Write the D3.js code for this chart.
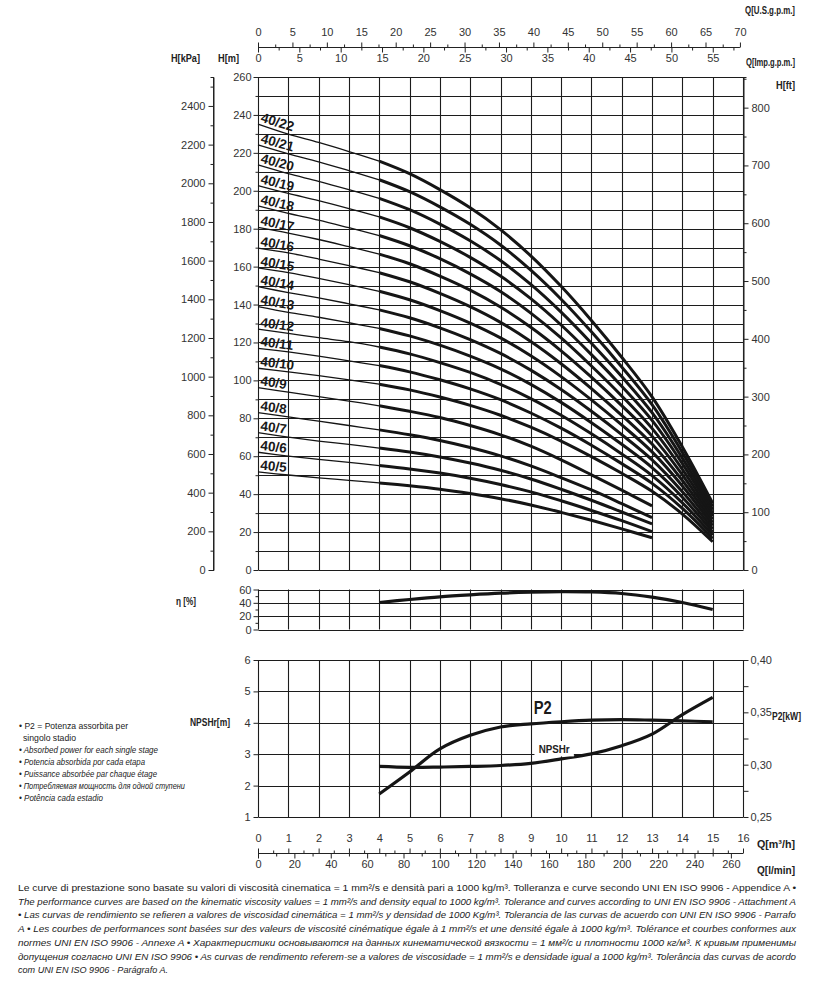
<!DOCTYPE html>
<html><head><meta charset="utf-8">
<script src="https://cdn.jsdelivr.net/npm/d3@7"></script>
<style>
body{margin:0;background:#fff}
svg{display:block}
.tk text{font-family:"Liberation Sans",Arial,sans-serif;font-size:11px;fill:#333}
.tk path,.tk line{stroke:#222;stroke-width:1}
.ttl{font-family:"Liberation Sans",Arial,sans-serif;font-weight:bold;font-size:11.5px;fill:#222}
.nt{font-family:"Liberation Sans",Arial,sans-serif;fill:#222}
</style></head>
<body><svg id="c" width="821" height="983"></svg>
<script>
// ---------------- data ----------------
const flowPoints = [0,1,2,3,4,5,6,7,8,9,10,11,12,13,14,15]; // Q [m3/h]
const stageLabels = ["40/5","40/6","40/7","40/8","40/9","40/10","40/11","40/12","40/13","40/14","40/15","40/16","40/17","40/18","40/19","40/20","40/21","40/22"];
const h40_5  = [51.7,50.1,48.6,47.3,45.9,44.4,42.6,40.3,37.6,34.3,30.4,26.2,21.7,17.0];
const h40_6  = [62.1,60.1,58.3,56.8,55.1,53.3,51.1,48.4,45.1,41.2,36.5,31.4,26.0,20.2];
const h40_7  = [72.4,70.1,68.0,66.2,64.3,62.2,59.6,56.4,52.6,48.0,42.6,36.8,30.6,24.3];
const h40_8  = [83.0,80.7,78.5,76.2,73.9,71.3,68.3,64.6,60.2,54.9,48.7,42.2,35.0,27.6];
const h40_9  = [96.2,93.8,91.4,89.1,86.6,83.7,80.4,76.2,71.3,65.3,58.1,50.2,42.1,33.8];
const h40_10 = [106.4,104.5,102.5,100.3,98.0,95.0,91.2,86.8,81.6,75.3,68.0,59.8,51.0,41.5,29.5,14.9];
const h40_11 = [116.9,115.0,112.8,110.3,107.8,104.5,100.3,95.5,89.8,82.8,74.8,65.8,56.1,45.7,32.5,16.6];
const h40_12 = [127.0,124.8,122.5,120.4,117.6,114.0,109.4,104.2,97.9,90.4,81.6,71.8,61.2,49.8,35.4,18.3];
const h40_13 = [138.9,135.9,133.3,130.4,127.4,123.5,118.6,112.8,106.1,97.9,88.4,77.7,66.3,54.0,38.4,20.0];
const h40_14 = [149.4,146.3,143.5,140.4,137.2,133.0,127.7,121.5,114.2,105.4,95.2,83.7,71.4,58.1,41.3,21.7];
const h40_15 = [159.3,156.8,153.8,150.5,147.0,142.5,136.8,130.2,122.4,113.0,102.0,89.7,76.5,62.3,44.3,23.4];
const h40_16 = [169.7,167.2,164.0,160.5,156.8,152.0,145.9,138.9,130.6,120.5,108.8,95.7,81.6,66.4,47.2,25.0];
const h40_17 = [180.7,177.7,174.3,170.5,166.6,161.5,155.0,147.6,138.7,128.0,115.6,101.7,86.7,70.6,50.2,26.7];
const h40_18 = [192.0,188.1,184.5,180.5,176.4,171.0,164.2,156.2,146.9,135.5,122.4,107.6,91.8,74.7,53.1,28.4];
const h40_19 = [202.7,198.6,194.8,190.6,186.2,180.5,173.3,164.9,155.0,143.1,129.2,113.6,96.9,78.9,56.1,30.1];
const h40_20 = [213.6,209.0,205.0,200.6,196.0,190.0,182.4,173.6,163.2,150.6,136.0,119.6,102.0,83.0,59.0,31.8];
const h40_21 = [224.2,219.5,215.3,210.6,205.8,199.5,191.5,182.3,171.4,158.1,142.8,125.6,107.1,87.2,62.0,33.5];
const h40_22 = [235.2,229.9,225.5,220.7,215.6,209.0,200.6,191.0,179.5,165.7,149.6,131.6,112.2,91.3,64.9,35.2];

const pumpQ      = [4,5,6,7,8,9,10,11,12,13,14,15];
const etaValues  = [40.5,45,49,52,54.5,56,56.8,56.3,54,48.5,40.5,30];
const p2Values   = [0.272,0.293,0.315,0.328,0.336,0.339,0.341,0.3425,0.343,0.3425,0.3418,0.341];
const npshValues = [2.61,2.58,2.59,2.61,2.64,2.71,2.85,3.01,3.27,3.64,4.26,4.81];

const usGpmTicks  = [0,5,10,15,20,25,30,35,40,45,50,55,60,65,70];
const impGpmTicks = [0,5,10,15,20,25,30,35,40,45,50,55];
const hmTicks     = [0,20,40,60,80,100,120,140,160,180,200,220,240,260];
const kPaTicks    = [0,200,400,600,800,1000,1200,1400,1600,1800,2000,2200,2400];
const ftTicks     = [0,100,200,300,400,500,600,700,800];
const etaTicks    = [0,20,40,60];
const npshTicks   = [1,2,3,4,5,6];
const p2Ticks     = [0.25,0.30,0.35,0.40];
const qTicks      = [0,1,2,3,4,5,6,7,8,9,10,11,12,13,14,15,16];
const lminTicks   = [0,20,40,60,80,100,120,140,160,180,200,220,240,260];

const legendLines = [
  ["• P2 = Potenza assorbita per", false, 19, 109],
  ["singolo stadio", false, 23, 53],
  ["• Absorbed power for each single stage", true, 19, 139],
  ["• Potencia absorbida por cada etapa", true, 19, 126],
  ["• Puissance absorbée par chaque étage", true, 19, 138],
  ["• Потребляемая мощность для одной ступени", true, 19, 166],
  ["• Potência  cada estadio", true, 19, 84]
];
const footerLines = [
  ["Le curve di prestazione sono basate su valori di viscosità cinematica = 1 mm²/s e densità pari a 1000 kg/m³. Tolleranza e curve secondo UNI EN ISO 9906 - Appendice A •", false, 778],
  ["The performance curves are based on the kinematic viscosity values = 1 mm²/s and density equal to 1000 kg/m³. Tolerance and curves according to UNI EN ISO 9906 - Attachment A", true, 778],
  ["• Las curvas de rendimiento se refieren a valores de viscosidad cinemática = 1 mm²/s y densidad de 1000 Kg/m³. Tolerancia de las curvas de acuerdo con UNI EN ISO 9906 - Parrafo", true, 778],
  ["A • Les courbes de performances sont basées sur des valeurs de viscosité cinématique égale à 1 mm²/s et une densité égale à 1000 kg/m³. Tolérance et courbes conformes aux", true, 778],
  ["normes UNI EN ISO 9906 - Annexe A • Характеристики основываются на данных кинематической вязкости = 1 мм²/с и плотности 1000 кг/м³. К кривым применимы", true, 778],
  ["допущения согласно UNI EN ISO 9906 • As curvas de rendimento referem-se a valores de viscosidade = 1 mm²/s e densidade igual a 1000 kg/m³. Tolerância das curvas de acordo", true, 778],
  ["com UNI EN ISO 9906 - Parágrafo A.", true, 150]
];

// ---------------- scales ----------------
const svg = d3.select("#c");
const X0 = 258, X1 = 743;
const x = d3.scaleLinear([0,16],[X0,X1]);
const yH = d3.scaleLinear([0,260],[570,77]);
const yKPa = d3.scaleLinear([0,260*9.80665],[570,77]);
const yFt = d3.scaleLinear([0,260/0.3048],[570,77]);
const xUS = d3.scaleLinear([0,16*4.40287],[X0,X1]);
const xImp = d3.scaleLinear([0,16*3.66615],[X0,X1]);
const xLmin = d3.scaleLinear([0,16*1000/60],[X0,X1]);
const yEta = d3.scaleLinear([0,60],[629.5,589.5]);
const yN = d3.scaleLinear([1,6],[817,660]);
const yP2 = d3.scaleLinear([0.25,0.40],[817,660]);

const gridC = "#1c1c1c";
function grid(yScale, yVals, y0, y1){
  const g = svg.append("g").attr("stroke",gridC).attr("stroke-width",1.1);
  g.selectAll(".v").data(d3.range(0,17)).join("line")
    .attr("x1",d=>Math.round(x(d))+0.5).attr("x2",d=>Math.round(x(d))+0.5)
    .attr("y1",y0).attr("y2",y1);
  g.selectAll(".h").data(yVals).join("line")
    .attr("x1",X0+0.5).attr("x2",Math.round(X1)+0.5)
    .attr("y1",d=>Math.round(yScale(d))+0.5).attr("y2",d=>Math.round(yScale(d))+0.5);
}
grid(yH, d3.range(0,261,10), yH(260), yH(0));
grid(yEta, [0,20,40,60], yEta(60), yEta(0));
grid(yN, [1,2,3,4,5,6], yN(6), yN(1));

function axis(gen, tr){
  return svg.append("g").attr("class","tk").attr("transform",tr).call(gen);
}
// main left H[m]
axis(d3.axisLeft(yH).tickValues(d3.range(10,261,20)).tickSize(3).tickFormat(""), `translate(${X0+0.5},0)`).select(".domain").remove();
axis(d3.axisLeft(yH).tickValues(hmTicks).tickSize(5).tickPadding(2).tickFormat(d3.format("d")), `translate(${X0+0.5},0)`).select(".domain").remove();
// kPa axis
axis(d3.axisLeft(yKPa).tickValues(d3.range(100,2550,200)).tickSize(3).tickFormat(""), "translate(213.5,0)");
const ka = axis(d3.axisLeft(yKPa).tickValues(kPaTicks).tickSize(5).tickPadding(3).tickFormat(d3.format("d")), "translate(213.5,0)");
ka.select(".domain").attr("d",`M0,${yKPa(0)}V${yH(260)}`);
// ft axis right
axis(d3.axisRight(yFt).tickValues(d3.range(50,851,100)).tickSize(3).tickFormat(""), `translate(${X1+0.5},0)`);
const fa = axis(d3.axisRight(yFt).tickValues(ftTicks).tickSize(5).tickPadding(3).tickFormat(d3.format("d")), `translate(${X1+0.5},0)`);
fa.select(".domain").attr("d",`M0,${yH(0)}V${yH(260)}`);
// eta axis
axis(d3.axisLeft(yEta).tickValues([10,30,50]).tickSize(3).tickFormat(""), `translate(${X0+0.5},0)`).select(".domain").remove();
axis(d3.axisLeft(yEta).tickValues(etaTicks).tickSize(5).tickPadding(2).tickFormat(d3.format("d")), `translate(${X0+0.5},0)`).select(".domain").remove();
// NPSH axis
axis(d3.axisLeft(yN).tickValues(npshTicks).tickSize(5).tickPadding(3).tickFormat(d3.format("d")), `translate(${X0+0.5},0)`).select(".domain").remove();
// P2 axis right
axis(d3.axisRight(yP2).tickValues([0.275,0.325,0.375]).tickSize(5).tickFormat(""), `translate(${X1+0.5},0)`).select(".domain").remove();
axis(d3.axisRight(yP2).tickValues(p2Ticks).tickSize(5).tickPadding(2).tickFormat(d=>d3.format(".2f")(d).replace(".",",")), `translate(${X1+0.5},0)`).select(".domain").remove();

// top flow axes
const topY = 47.5;
axis(d3.axisTop(xUS).tickValues(d3.range(2.5,70,5)).tickSize(3).tickFormat(""), `translate(0,${topY})`).select(".domain").remove();
const ua = axis(d3.axisTop(xUS).tickValues(usGpmTicks).tickSize(5).tickPadding(7), `translate(0,${topY})`);
ua.select(".domain").attr("d",`M${X0},0H${xUS(70)}`);
axis(d3.axisBottom(xImp).tickValues(d3.range(2.5,58,5)).tickSize(3).tickFormat(""), `translate(0,${topY})`).select(".domain").remove();
axis(d3.axisBottom(xImp).tickValues(impGpmTicks).tickSize(5).tickPadding(2), `translate(0,${topY})`).select(".domain").remove();

// bottom flow axes
const botY = 853.5;
axis(d3.axisTop(x).tickValues(d3.range(0.5,16,1)).tickSize(3).tickFormat(""), `translate(0,${botY})`).select(".domain").remove();
const ba = axis(d3.axisTop(x).tickValues(qTicks).tickSize(5).tickPadding(7), `translate(0,${botY})`);
ba.select(".domain").attr("d",`M${X0},0H${X1}`);
axis(d3.axisBottom(xLmin).tickValues(d3.range(10,266,20)).tickSize(3).tickFormat(""), `translate(0,${botY})`).select(".domain").remove();
axis(d3.axisBottom(xLmin).tickValues(lminTicks).tickSize(5).tickPadding(2), `translate(0,${botY})`).select(".domain").remove();

// ---------------- head curves ----------------
const headCurves = [h40_5,h40_6,h40_7,h40_8,h40_9,h40_10,h40_11,h40_12,h40_13,h40_14,h40_15,h40_16,h40_17,h40_18,h40_19,h40_20,h40_21,h40_22];
const lineH = d3.line().x(d=>x(d[0])).y(d=>yH(d[1])).curve(d3.curveCatmullRom.alpha(0.5));
const cg = svg.append("g").attr("fill","none").attr("stroke","#151515");
headCurves.forEach((arr,i)=>{
  const pts = arr.map((h,j)=>[flowPoints[j],h]);
  cg.append("path").attr("d",lineH(pts.filter(p=>p[0]<=4))).attr("stroke-width",1.3);
  cg.append("path").attr("d",lineH(pts.filter(p=>p[0]>=4))).attr("stroke-width",3);
  const ang = Math.atan2(yH(arr[2])-yH(arr[0]), x(2)-x(0))*180/Math.PI;
  svg.append("text")
    .attr("transform",`translate(${x(0)+2},${yH(arr[0])-2.5}) rotate(${ang})`)
    .attr("font-family","'Liberation Sans',Arial,sans-serif").attr("font-weight","bold")
    .attr("font-size",13.5).attr("fill","#1a1a1a").text(stageLabels[i]);
});

// ---------------- efficiency ----------------
const smooth = d3.curveCatmullRom.alpha(0.5);
svg.append("path").attr("fill","none").attr("stroke","#151515").attr("stroke-width",3.2)
  .attr("d", d3.line().x((d,i)=>x(pumpQ[i])).y(d=>yEta(d)).curve(smooth)(etaValues));

// ---------------- P2 & NPSHr ----------------
svg.append("path").attr("fill","none").attr("stroke","#151515").attr("stroke-width",3.2)
  .attr("d", d3.line().x((d,i)=>x(pumpQ[i])).y(d=>yP2(d)).curve(smooth)(p2Values));
svg.append("path").attr("fill","none").attr("stroke","#151515").attr("stroke-width",3.2)
  .attr("d", d3.line().x((d,i)=>x(pumpQ[i])).y(d=>yN(d)).curve(smooth)(npshValues));
svg.append("rect").attr("x",x(9.12)).attr("y",yN(3.42)).attr("width",x(10.42)-x(9.12)).attr("height",yN(2.93)-yN(3.42)).attr("fill","#fff");
svg.append("text").attr("class","ttl").attr("x",x(9.77)).attr("y",yN(3.15)+4).attr("text-anchor","middle")
  .attr("textLength",31).attr("lengthAdjust","spacingAndGlyphs").text("NPSHr");
svg.append("text").attr("x",x(9.39)).attr("y",yN(4.49)+6.5).attr("text-anchor","middle")
  .attr("font-family","'Liberation Sans',Arial,sans-serif").attr("font-weight","bold").attr("font-size",17.5)
  .attr("textLength",18).attr("lengthAdjust","spacingAndGlyphs").attr("fill","#1a1a1a").text("P2");

// ---------------- titles ----------------
function t(txt,xx,yy,w){
  return svg.append("text").attr("class","ttl").attr("x",xx).attr("y",yy)
    .attr("textLength",w).attr("lengthAdjust","spacingAndGlyphs").text(txt);
}
t("Q[U.S.g.p.m.]",745,14,50);
t("Q[Imp.g.p.m.]",746,66,49);
t("H[ft]",776,89,19);
t("H[kPa]",171,62,29);
t("H[m]",218,62,21);
t("η [%]",176,605,20);
t("NPSHr[m]",190,726,40);
t("P2[kW]",772,720,29);
t("Q[m³/h]",757,848,38);
t("Q[l/min]",757,874,38);

// legend
legendLines.forEach((l,i)=>{
  svg.append("text").attr("class","nt").attr("x",l[2]).attr("y",729+12*i)
    .attr("font-style",l[1]?"italic":"normal").attr("font-size",9.8)
    .attr("textLength",l[3]).attr("lengthAdjust","spacingAndGlyphs").text(l[0]);
});
// footer
footerLines.forEach((l,i)=>{
  svg.append("text").attr("class","nt").attr("x",18).attr("y",891+13.7*i)
    .attr("font-style",l[1]?"italic":"normal").attr("font-size",9.6)
    .attr("textLength",l[2]).attr("lengthAdjust","spacingAndGlyphs").text(l[0]);
});
</script>
</body></html>
